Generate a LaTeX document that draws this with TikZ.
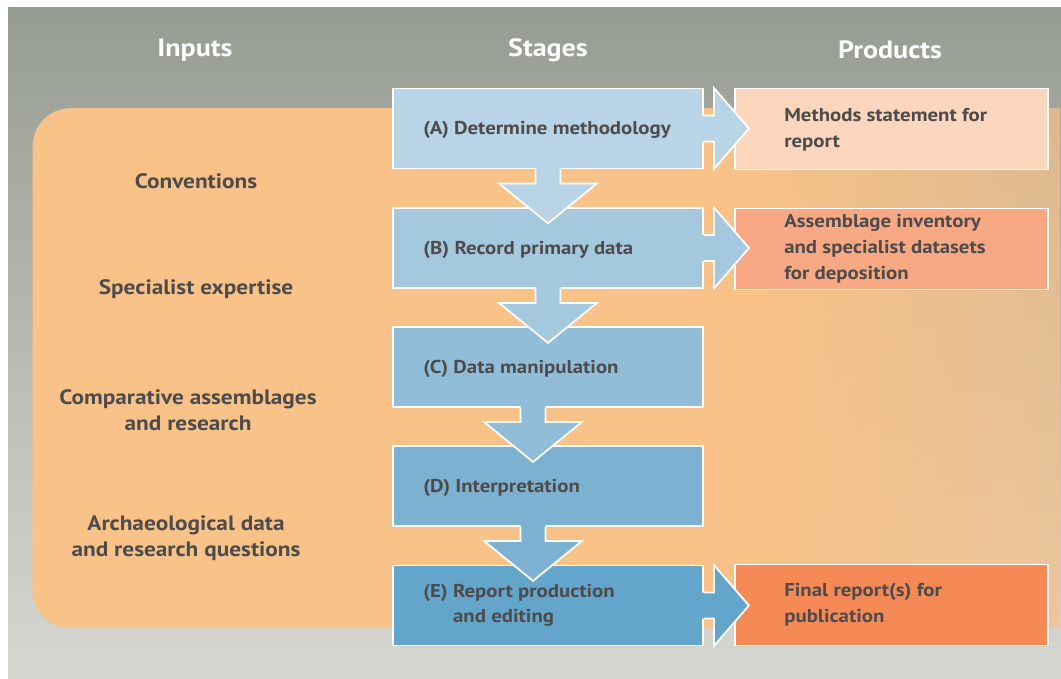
\documentclass[tikz,border=0pt]{standalone}
\usepackage{fontspec}
\setmainfont{PT Sans}[FakeStretch=1.12]
\usetikzlibrary{calc,fadings}

\definecolor{bgtop}{HTML}{979C92}
\definecolor{bgbot}{HTML}{D7D7D1}
\definecolor{panelor}{HTML}{F8C288}
\definecolor{stA}{HTML}{B8D4E6}
\definecolor{stB}{HTML}{A4C8DE}
\definecolor{stC}{HTML}{91BDD8}
\definecolor{stD}{HTML}{7DB1D1}
\definecolor{stE}{HTML}{64A6CB}
\definecolor{prA}{HTML}{FCD6BD}
\definecolor{prB}{HTML}{F8A983}
\definecolor{prE}{HTML}{F58A56}
\definecolor{textgray}{HTML}{4D4B4B}

\begin{tikzfadingfrompicture}[name=panelfade]
  \fill[transparent!0] (-50bp,-50bp) rectangle (10.5bp,50bp);
  \shade[left color=transparent!0,right color=transparent!85] (10bp,-50bp) rectangle (50bp,50bp);
\end{tikzfadingfrompicture}

\newcommand\stagedown[3]{%
  \fill[#3] ($(#1.south)+(#2-12.5,-3)$) -- ($(#1.south)+(#2-12.5,14)$) -- ($(#1.south)+(#2-49,14)$)
     -- ($(#1.south)+(#2,54)$) -- ($(#1.south)+(#2+49,14)$) -- ($(#1.south)+(#2+12.5,14)$)
     -- ($(#1.south)+(#2+12.5,-3)$) -- cycle;
  \draw[arrowline] ($(#1.south)+(#2-12.5,0)$) -- ($(#1.south)+(#2-12.5,14)$) -- ($(#1.south)+(#2-49,14)$)
     -- ($(#1.south)+(#2,54)$) -- ($(#1.south)+(#2+49,14)$) -- ($(#1.south)+(#2+12.5,14)$)
     -- ($(#1.south)+(#2+12.5,0)$);}

\newcommand\stageright[2]{%
  \fill[#2] ($(#1.east)+(-3,-13)$) -- ($(#1.east)+(10,-13)$) -- ($(#1.east)+(10,-40.5)$)
     -- ($(#1.east)+(45,0)$) -- ($(#1.east)+(10,40.5)$) -- ($(#1.east)+(10,13)$)
     -- ($(#1.east)+(-3,13)$) -- cycle;
  \draw[arrowline] ($(#1.east)+(0,-13)$) -- ($(#1.east)+(10,-13)$) -- ($(#1.east)+(10,-40.5)$)
     -- ($(#1.east)+(45,0)$) -- ($(#1.east)+(10,40.5)$) -- ($(#1.east)+(10,13)$)
     -- ($(#1.east)+(0,13)$);}

\begin{document}
\begin{tikzpicture}[x=1pt,y=-1pt,
  stagebox/.style={draw=white, line width=1.8pt, minimum width=310pt, minimum height=80pt, inner sep=0pt},
  prodbox/.style={draw=white, line width=1.8pt, minimum width=313pt, minimum height=81pt, inner sep=0pt},
  arrowline/.style={draw=white, line width=1.8pt, line join=miter},
  txt/.style={text=textgray, font=\bfseries\fontsize{18.6}{25.8}\selectfont, align=left, inner sep=0pt},
  intxt/.style={text=textgray, font=\bfseries\fontsize{20.8}{25.5}\selectfont, align=center, inner sep=0pt},
  hdr/.style={text=white, font=\bfseries\fontsize{25}{28}\selectfont, inner sep=0pt}]
\useasboundingbox (0,0) rectangle (1061,678);
\fill[white] (0,0) rectangle (1061,678);
\shade[top color=bgtop,bottom color=bgbot] (8,7) rectangle (1061,678);

% orange inputs panel
\fill[panelor, path fading=panelfade] (1061,108) -- (71,108) arc[start angle=270,end angle=180,radius=38]
   -- (33,590) arc[start angle=180,end angle=90,radius=38] -- (1061,628) -- cycle;

% headers
\node[hdr] (hIn) at (195,50) {Inputs};
\node[hdr] (hSt) at (548,50) {Stages};
\node[hdr] (hPr) at (890,50) {Products};

% stage boxes
\node[stagebox, fill=stA] (sA) at (548,128.5) {};
\node[stagebox, fill=stB] (sB) at (548,248) {};
\node[stagebox, fill=stC] (sC) at (548,367) {};
\node[stagebox, fill=stD] (sD) at (548,486) {};
\node[stagebox, fill=stE] (sE) at (548,605.5) {};

% product boxes
\node[prodbox, fill=prA] (pA) at (891.5,129) {};
\node[prodbox, fill=prB] (pB) at (891.5,249) {};
\node[prodbox, fill=prE] (pE) at (891.5,605) {};

% down arrows
\stagedown{sA}{0}{stA}
\stagedown{sB}{0}{stB}
\stagedown{sC}{-15}{stC}
\stagedown{sD}{-15}{stD}

% right arrows
\stageright{sA}{stA}
\stageright{sB}{stB}
\stageright{sE}{stE}

% input texts
\node[intxt] (iConv) at (196,181) {Conventions};
\node[intxt] (iSpec) at (196,289) {Specialist expertise};
\node[intxt] (iComp) at (188,410) {Comparative assemblages\\and research};
\node[intxt] (iArch) at (186,538) {Archaeological data\\and research questions};

% stage texts
\node[txt, anchor=west] (tA) at ($(sA.west)+(31,1.5)$) {(A) Determine methodology};
\node[txt, anchor=west] (tB) at ($(sB.west)+(31,1.5)$) {(B) Record primary data};
\node[txt, anchor=west] (tC) at ($(sC.west)+(31,1.5)$) {(C) Data manipulation};
\node[txt, anchor=west] (tD) at ($(sD.west)+(31,1.5)$) {(D) Interpretation};
\node[txt, anchor=west] (tE) at ($(sE.west)+(31,0)$) {(E) Report production\\\phantom{(E) }and editing};

% product texts
\node[txt, anchor=west] (tpA) at ($(pA.west)+(50,1)$) {Methods statement for\\report};
\node[txt, anchor=west] (tpB) at ($(pB.west)+(50,0)$) {Assemblage inventory\\and specialist datasets\\for deposition};
\node[txt, anchor=west] (tpE) at ($(pE.west)+(50,0)$) {Final report(s) for\\publication};
\end{tikzpicture}
\end{document}
